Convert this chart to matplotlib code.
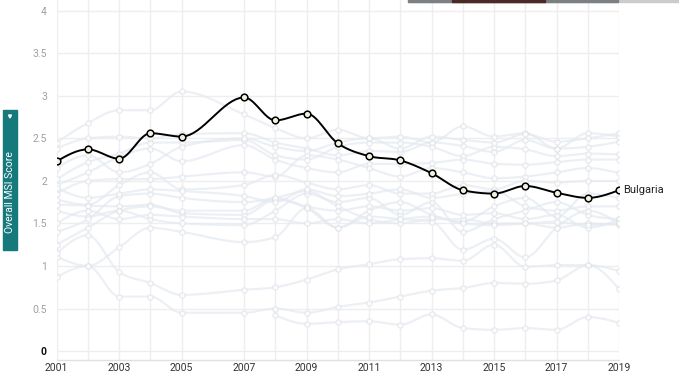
import numpy as np
import matplotlib
matplotlib.use("Agg")
import matplotlib.pyplot as plt
from matplotlib.patches import Rectangle, Polygon

# --- Data ---
years = [2001, 2002, 2003, 2004, 2005, 2007, 2008, 2009, 2010, 2011,
         2012, 2013, 2014, 2015, 2016, 2017, 2018, 2019]
tick_years = [2001, 2003, 2005, 2007, 2009, 2011, 2013, 2015, 2017, 2019]
y_ticks = [0, 0.5, 1, 1.5, 2, 2.5, 3, 3.5, 4]
y_tick_labels = ["0", "0.5", "1", "1.5", "2", "2.5", "3", "3.5", "4"]

highlight_name = "Bulgaria"
bulgaria = [2.23, 2.37, 2.26, 2.56, 2.52, 2.98, 2.71, 2.79, 2.44, 2.29,
            2.24, 2.09, 1.89, 1.85, 1.94, 1.86, 1.80, 1.89]

nan = np.nan
# other countries, drawn faint in the background
peer_01 = [2.45, 2.68, 2.83, 2.83, 3.05, 2.78, 2.62, 2.50, 2.60, 2.50, 2.52, 2.45, 2.64, 2.52, 2.56, 2.38, 2.40, 2.46]
peer_02 = [2.38, 2.50, 2.52, 2.50, 2.55, 2.56, 2.45, 2.38, 2.30, 2.35, 2.34, 2.45, 2.41, 2.34, 2.48, 2.38, 2.56, 2.52]
peer_03 = [2.02, 2.22, 2.32, 2.45, 2.45, 2.48, 2.30, 2.25, 2.40, 2.45, 2.45, 2.40, 2.29, 2.40, 2.37, 2.29, 2.32, 2.31]
peer_04 = [1.95, 2.10, 2.28, 2.38, 2.23, 2.42, 2.25, 2.15, 2.10, 2.20, 2.20, 2.21, 2.25, 2.20, 2.19, 2.22, 2.25, 2.25]
peer_05 = [1.85, 2.00, 2.02, 2.02, 2.05, 2.10, 2.05, 2.30, 2.25, 2.15, 2.05, 2.15, 2.10, 2.03, 2.05, 2.10, 2.15, 2.09]
peer_06 = [1.78, 1.72, 1.95, 2.10, 1.90, 1.95, 2.07, 1.98, 1.90, 1.95, 1.85, 1.85, 1.95, 1.90, 2.00, 1.98, 2.00, 2.00]
peer_07 = [1.72, 1.71, 1.70, 1.72, 1.62, 1.60, 1.78, 1.68, 1.45, 1.65, 1.75, 1.60, 1.52, 1.70, 1.80, 1.58, 1.85, 1.80]
peer_08 = [1.65, 1.58, 1.65, 1.55, 1.50, 1.48, 1.65, 1.85, 1.75, 1.80, 1.60, 1.75, 1.40, 1.55, 1.65, 1.75, 1.60, 1.55]
peer_09 = [1.40, 1.55, 1.82, 1.85, 1.80, 1.75, 1.80, 1.88, 1.70, 1.55, 1.50, 1.55, 1.55, 1.50, 1.50, 1.45, 1.50, 1.48]
peer_10 = [1.25, 1.45, 1.65, 1.70, 1.65, 1.65, 1.80, 1.70, 1.65, 1.70, 1.65, 1.68, 1.60, 1.62, 1.55, 1.60, 1.45, 1.55]
peer_11 = [1.11, 1.00, 1.22, 1.45, 1.40, 1.28, 1.34, 1.68, 1.45, 1.58, 1.55, 1.52, 1.19, 1.32, 1.10, 1.45, 1.65, 1.50]
peer_12 = [1.15, 1.36, 0.93, 0.80, 0.66, 0.72, 0.75, 0.84, 0.96, 1.02, 1.08, 1.09, 1.06, 1.25, 0.99, 1.01, 1.01, 0.94]
peer_13 = [0.87, 1.00, 0.64, 0.64, 0.45, 0.45, 0.50, 0.45, 0.52, 0.57, 0.64, 0.71, 0.74, 0.80, 0.79, 0.83, 1.01, 0.73]
peer_14 = [nan, nan, nan, nan, nan, nan, 0.42, 0.32, 0.34, 0.35, 0.31, 0.43, 0.27, 0.25, 0.27, 0.25, 0.40, 0.33]
peer_15 = [1.92, 1.80, 1.85, 1.90, 1.88, 1.82, 1.75, 1.90, 1.82, 1.85, 1.90, 1.80, 1.85, 1.88, 1.70, 1.65, 1.70, 1.70]
peer_16 = [1.50, 1.65, 1.55, 1.60, 1.58, 1.55, 1.55, 1.50, 1.55, 1.50, 1.55, 1.58, 1.50, 1.48, 1.50, 1.52, 1.48, 1.50]
peer_17 = [2.15, 2.30, 2.10, 2.20, 2.40, 2.50, 2.40, 2.35, 2.45, 2.50, 2.38, 2.52, 2.48, 2.45, 2.55, 2.46, 2.50, 2.56]

peers = [peer_01, peer_02, peer_03, peer_04, peer_05, peer_06, peer_07, peer_08, peer_09,
         peer_10, peer_11, peer_12, peer_13, peer_14, peer_15, peer_16, peer_17]

# --- Style ---
FONT = "Roboto"
GRID_COLOR = "#eeeef0"
PEER_LINE = "#e4eaf1"
PEER_EDGE = "#dcdfe3"
TEAL = "#167a7c"


def monotone_curve(xs, ys, steps=16):
    """Monotone cubic (like d3.curveMonotoneX) through the points, for drawing only."""
    x = np.asarray(xs, dtype=float)
    y = np.asarray(ys, dtype=float)
    n = len(x)
    if n < 3:
        return x, y
    h = np.diff(x)
    s = np.diff(y) / h
    t = np.zeros(n)
    for i in range(1, n - 1):
        s0, s1 = s[i - 1], s[i]
        p = (s0 * h[i] + s1 * h[i - 1]) / (h[i - 1] + h[i])
        t[i] = (np.sign(s0) + np.sign(s1)) * min(abs(s0), abs(s1), 0.5 * abs(p))
    t[0] = (3 * s[0] - t[1]) / 2
    t[-1] = (3 * s[-1] - t[-2]) / 2
    out_x, out_y = [], []
    for i in range(n - 1):
        u = np.linspace(0, 1, steps, endpoint=(i == n - 2))
        h00 = 2 * u**3 - 3 * u**2 + 1
        h10 = u**3 - 2 * u**2 + u
        h01 = -2 * u**3 + 3 * u**2
        h11 = u**3 - u**2
        out_x.append(x[i] + u * h[i])
        out_y.append(h00 * y[i] + h10 * h[i] * t[i] + h01 * y[i + 1] + h11 * h[i] * t[i + 1])
    return np.concatenate(out_x), np.concatenate(out_y)


def draw_series(ax, values, line_kw, marker_kw):
    x = np.asarray(years, dtype=float)
    v = np.asarray(values, dtype=float)
    ok = ~np.isnan(v)
    cx, cy = monotone_curve(x[ok], v[ok])
    ax.plot(cx, cy, **line_kw)
    ax.plot(x[ok], v[ok], linestyle="none", marker="o", **marker_kw)


def main():
    fig = plt.figure(figsize=(6.79, 3.75), dpi=100)
    ax = fig.add_axes([56.7 / 679, 15 / 375, (619 - 56.7) / 679, 360 / 375])
    ax.set_xlim(2001, 2019)
    ax.set_ylim(-0.105, 4.125)

    # grid
    for yr in years:
        ax.axvline(yr, color=GRID_COLOR, lw=1, zorder=0)
    for yv in y_ticks:
        ax.axhline(yv, color=GRID_COLOR, lw=1, zorder=0)

    for vals in peers:
        draw_series(ax, vals,
                    dict(color=PEER_LINE, lw=1.6, alpha=0.7, zorder=1, solid_capstyle="round"),
                    dict(ms=3.8, mfc="white", mec=PEER_EDGE, mew=0.7, alpha=0.8, zorder=2))

    draw_series(ax, bulgaria,
                dict(color="black", lw=1.4, zorder=3),
                dict(ms=4.8, mfc="#f4f0df", mec="black", mew=1.1, zorder=4))
    ax.text(2019.12, bulgaria[-1], highlight_name, fontsize=8, family=FONT,
            color="#222222", va="center", ha="left", clip_on=False)

    for side in ["top", "right", "left"]:
        ax.spines[side].set_visible(False)
    ax.spines["bottom"].set_color("#e0e0e0")
    ax.spines["bottom"].set_linewidth(1)

    ax.set_xticks(tick_years)
    ax.set_xticklabels([str(y) for y in tick_years], fontsize=7.5, family=FONT, color="#333333")
    ax.set_yticks(y_ticks)
    ax.set_yticklabels(y_tick_labels, fontsize=7.5, family=FONT, color="#a0a0a0")
    ax.get_yticklabels()[0].set_color("#111111")
    ax.get_yticklabels()[0].set_fontweight("bold")
    ax.tick_params(axis="both", length=0)
    ax.tick_params(axis="y", pad=7)
    ax.tick_params(axis="x", pad=2)

    # vertical axis title box on the left
    fig.patches.append(Rectangle((3 / 679, 1 - 250 / 375), 14 / 679, 140 / 375,
                                 transform=fig.transFigure, color=TEAL, zorder=5))
    fig.patches.append(Polygon([(8.5 / 679, 1 - 115 / 375), (11.5 / 679, 1 - 115 / 375),
                                (10 / 679, 1 - 118 / 375)], closed=True,
                               transform=fig.transFigure, color="white", zorder=6))
    fig.text(10 / 679, 1 - 192 / 375, "Overall MSI Score", rotation=90, color="white",
             fontsize=7.5, family=FONT, ha="center", va="center", zorder=7)

    # thin bar along the top edge
    fig.patches.append(Rectangle((408 / 679, 1 - 2 / 375), 271 / 679, 2 / 375,
                                 transform=fig.transFigure, color="#c9cbcc", zorder=5))
    fig.patches.append(Rectangle((408 / 679, 1 - 2 / 375), 210 / 679, 2 / 375,
                                 transform=fig.transFigure, color="#7d8083", zorder=6))
    fig.patches.append(Rectangle((452 / 679, 1 - 2 / 375), 93 / 679, 2 / 375,
                                 transform=fig.transFigure, color="#4a2a24", zorder=7))

    fig.savefig("out.png", dpi=100, facecolor="white")


if __name__ == "__main__":
    main()
